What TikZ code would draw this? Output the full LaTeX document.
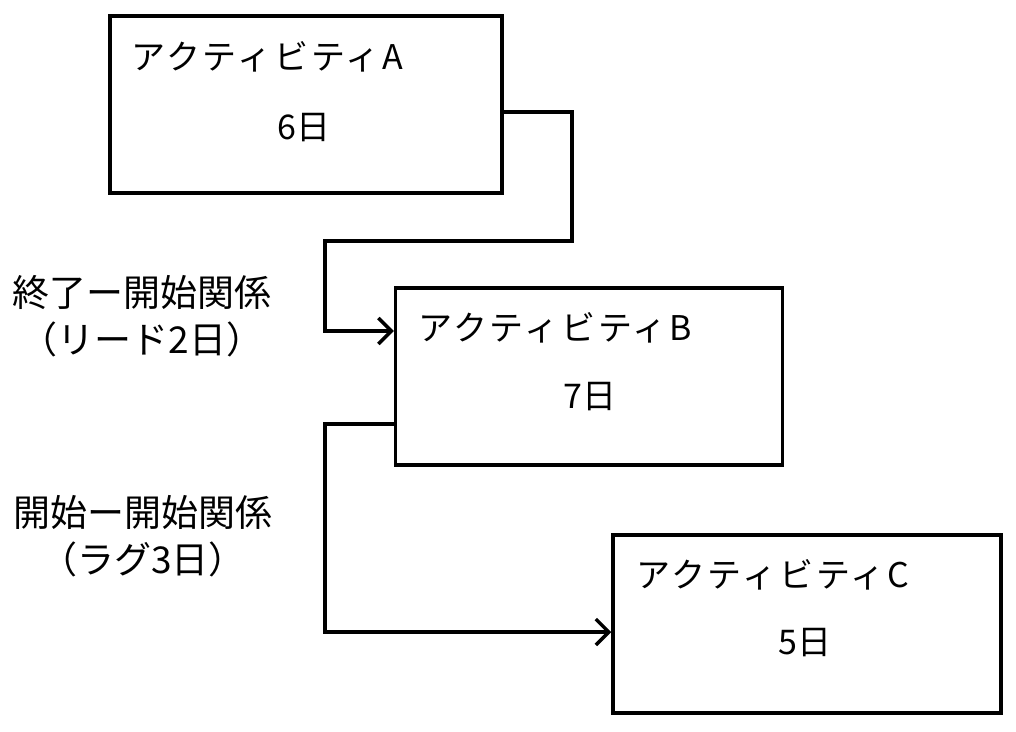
\documentclass[tikz,border=0pt]{standalone}
\usepackage{fontspec}
\setmainfont{Noto Sans CJK JP}
\usetikzlibrary{arrows.meta}
\begin{document}
\begin{tikzpicture}[x=1pt,y=-1pt,
  box/.style={draw,line width=3.5pt,minimum width=392pt,minimum height=177pt,inner sep=0pt},
  ttl/.style={anchor=west,inner sep=0pt,font=\fontsize{34}{40}\selectfont\addfontfeatures{LetterSpace=8}},
  dur/.style={inner sep=0pt,font=\fontsize{34}{40}\selectfont},
  lbl/.style={align=center,inner sep=0pt,font=\fontsize{37}{47}\selectfont},
  conn/.style={line width=3.5pt,-{Straight Barb[length=13pt,width=26pt,line width=3.5pt]}}]
\useasboundingbox (0,0) rectangle (1016,731);
\node[box] (A) at (306,104.5) {};
\node[box,minimum width=387pt] (B) at (589,376.5) {};
\node[box,minimum width=388pt,minimum height=178pt] (C) at (807,624) {};
\node[ttl] (At) at (131,57) {アクティビティA};
\node[dur] (Ad) at (304,128) {6日};
\node[ttl] (Bt) at (418,328) {アクティビティB};
\node[dur] (Bd) at (590,397) {7日};
\node[ttl] (Ct) at (636,575) {アクティビティC};
\node[dur] (Cd) at (805,643) {5日};
\node[lbl] (L1) at (142,316) {終了ー開始関係\\（リード2日）};
\node[lbl] (L2) at (143,536) {開始ー開始関係\\（ラグ3日）};
\draw[conn] ([yshift=-7.5pt]A.east) -- (572,112) -- (572,241) -- (325,241) -- (325,331) -- ([yshift=45.5pt]B.west);
\draw[conn] ([yshift=-47.5pt]B.west) -- (325,424) -- (325,632) -- ([yshift=-8pt]C.west);
\end{tikzpicture}
\end{document}
